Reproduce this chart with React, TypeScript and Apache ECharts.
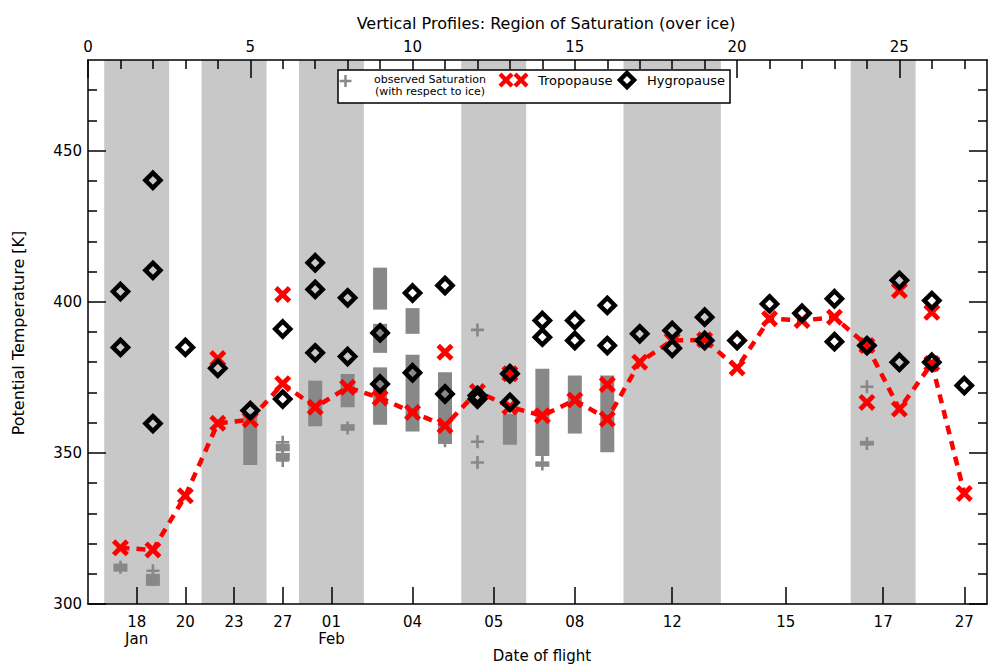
import React, { useEffect, useRef } from "react";
import * as echarts from "echarts";

const FONT = "DejaVu Sans";
const X_MAX = 27.7;
const Y_MIN = 300;
const Y_MAX = 480;

const bandRanges = [
  [0.5, 2.5], [3.5, 5.5], [6.5, 8.5], [11.5, 13.5], [16.5, 19.5], [23.5, 25.5],
];
const dateTickPos = [1.5, 3, 4.5, 6, 7.5, 10, 12.5, 15, 18, 21.5, 24.5, 27];
const dateTickLabels = ["18\nJan", "20", "23", "27", "01\nFeb", "04", "05", "08", "12", "15", "17", "27"];
const topTickMajor = [0, 5, 10, 15, 20, 25];
const topTickMinor = [1, 2, 3, 4, 6, 7, 8, 9, 11, 12, 13, 14, 16, 17, 18, 19, 21, 22, 23, 24, 26, 27];
const yMajor = [300, 350, 400, 450];
const yMinor = [310, 320, 330, 340, 360, 370, 380, 390, 410, 420, 430, 440, 460, 470];

// primary tropopause (connected by dashed line)
const tropopauseLine = [
  [1, 318.6], [2, 317.9], [3, 335.8], [4, 359.8], [5, 361.0], [6, 372.9], [7, 365.1],
  [8, 371.7], [9, 368.2], [10, 363.4], [11, 359.0], [12, 370.3], [13, 365.2], [14, 362.3],
  [15, 367.5], [16, 361.2], [17, 380.0], [18, 387.2], [19, 387.4], [20, 378.1], [21, 394.4],
  [22, 393.8], [23, 394.9], [24, 385.5], [25, 364.5], [26, 379.6], [27, 336.6],
];
// secondary tropopauses
const tropopauseExtra = [
  [4, 381.2], [6, 402.4], [11, 383.3], [13, 376.2], [16, 372.6], [24, 366.7], [25, 403.7], [26, 396.5],
];
const hygropause = [
  [1, 403.4], [1, 384.9], [2, 440.2], [2, 410.4], [2, 359.7], [3, 384.9], [4, 378.0], [5, 364.0],
  [6, 391.0], [6, 367.8], [7, 412.9], [7, 404.1], [7, 383.1], [8, 401.3], [8, 381.9],
  [9, 389.7], [9, 372.8], [10, 402.9], [10, 376.5], [11, 405.4], [11, 369.5],
  [12, 369.0], [12, 367.8], [13, 376.2], [13, 366.7], [14, 393.8], [14, 388.3],
  [15, 393.8], [15, 387.2], [16, 398.8], [16, 385.5], [17, 389.4], [18, 390.5], [18, 384.6],
  [19, 394.9], [19, 387.2], [20, 387.2], [21, 399.3], [22, 396.2], [23, 401.0], [23, 386.8],
  [24, 385.5], [25, 407.1], [25, 380.0], [26, 400.4], [26, 380.0], [27, 372.3],
];
// observed saturation ranges [flight, low, high]
const saturationBars = [
  [1, 310.7, 313.4], [2, 306.0, 310.0], [5, 346.0, 363.0], [6, 350.5, 353.0], [6, 347.5, 350.0],
  [7, 358.8, 373.9], [8, 365.1, 376.1], [8, 357.3, 359.5],
  [9, 397.4, 411.3], [9, 383.1, 392.7], [9, 359.3, 378.3],
  [10, 389.4, 397.9], [10, 357.1, 382.5], [11, 352.9, 376.7], [11, 353.3, 354.8],
  [13, 352.7, 362.9], [14, 349.0, 377.8], [14, 345.4, 347.2], [15, 356.4, 375.6],
  [16, 350.2, 375.6], [24, 352.4, 354.0],
];
const saturationPoints = [
  [1, 312.2], [2, 311.0], [2, 308.2], [6, 353.5], [6, 351.5], [6, 349.5], [6, 347.5],
  [8, 358.2], [11, 354.0], [12, 390.7], [12, 353.7], [12, 346.8], [14, 349.7], [14, 346.3],
  [24, 371.9], [24, 353.1],
];

const X_PATH = "path://M4,0 L10,6 L16,0 L20,4 L14,10 L20,16 L16,20 L10,14 L4,20 L0,16 L6,10 L0,4 Z";
const PLUS_PATH = "path://M4,0 L6,0 L6,4 L10,4 L10,6 L6,6 L6,10 L4,10 L4,6 L0,6 L0,4 L4,4 Z";

function xPoly(cx: number, cy: number, s: number) {
  const pts = [[4, 0], [10, 6], [16, 0], [20, 4], [14, 10], [20, 16], [16, 20], [10, 14], [4, 20], [0, 16], [6, 10], [0, 4]];
  return pts.map(([a, b]) => [cx + (a - 10) * s / 20, cy + (b - 10) * s / 20]);
}

export default function App() {
  const ref = useRef<HTMLDivElement>(null);
  useEffect(() => {
    if (!ref.current) return;
    const chart = echarts.init(ref.current, undefined, { renderer: "svg" });
    const axisLine = { show: true, onZero: false, lineStyle: { color: "#000", width: 1.5 } };
    const tickStyle = { color: "#000", width: 1.5 };
    const labelStyle = { color: "#000", fontFamily: FONT, fontSize: 15 };

    const option: any = {
      animation: false,
      backgroundColor: "#fff",
      title: {
        text: "Vertical Profiles: Region of Saturation (over ice)",
        left: 541,
        top: 10,
        textAlign: "center",
        textStyle: { color: "#000", fontFamily: FONT, fontSize: 16, fontWeight: "normal" },
      },
      grid: { left: 88, right: 1, top: 60, bottom: 62, containLabel: false },
      xAxis: [
        {
          type: "value", position: "bottom", min: 0, max: X_MAX,
          axisLine,
          axisTick: { show: true, inside: true, length: 17, customValues: dateTickPos, lineStyle: tickStyle },
          axisLabel: {
            ...labelStyle, margin: 9, lineHeight: 17, customValues: dateTickPos,
            formatter: (v: number) => {
              const i = dateTickPos.findIndex((p) => Math.abs(p - v) < 1e-6);
              return i >= 0 ? dateTickLabels[i] : "";
            },
          },
          splitLine: { show: false },
        },
        {
          type: "value", position: "top", min: 0, max: X_MAX,
          axisLine,
          axisTick: { show: true, inside: true, length: 18, customValues: topTickMajor, lineStyle: tickStyle },
          axisLabel: { ...labelStyle, margin: 6, customValues: topTickMajor },
          splitLine: { show: false },
        },
        {
          type: "value", position: "top", min: 0, max: X_MAX,
          axisLine: { show: false, onZero: false },
          axisTick: { show: true, inside: true, length: 9, customValues: topTickMinor, lineStyle: tickStyle },
          axisLabel: { show: false },
          splitLine: { show: false },
        },
      ],
      yAxis: [
        {
          type: "value", position: "left", min: Y_MIN, max: Y_MAX,
          axisLine,
          axisTick: { show: true, inside: true, length: 18, customValues: yMajor, lineStyle: tickStyle },
          axisLabel: { ...labelStyle, margin: 6, customValues: yMajor },
          splitLine: { show: false },
        },
        {
          type: "value", position: "left", min: Y_MIN, max: Y_MAX,
          axisLine: { show: false, onZero: false },
          axisTick: { show: true, inside: true, length: 9, customValues: yMinor, lineStyle: tickStyle },
          axisLabel: { show: false },
          splitLine: { show: false },
        },
        {
          type: "value", position: "right", min: Y_MIN, max: Y_MAX,
          axisLine,
          axisTick: { show: true, inside: true, length: 18, customValues: yMajor, lineStyle: tickStyle },
          axisLabel: { show: false },
          splitLine: { show: false },
        },
        {
          type: "value", position: "right", min: Y_MIN, max: Y_MAX,
          axisLine: { show: false, onZero: false },
          axisTick: { show: true, inside: true, length: 9, customValues: yMinor, lineStyle: tickStyle },
          axisLabel: { show: false },
          splitLine: { show: false },
        },
      ],
      series: [
        {
          type: "custom",
          name: "bands",
          z: 0,
          silent: true,
          data: bandRanges,
          renderItem: (params: any, api: any) => {
            const p1 = api.coord([api.value(0), Y_MAX]);
            const p2 = api.coord([api.value(1), Y_MIN]);
            return {
              type: "rect",
              shape: { x: p1[0], y: p1[1], width: p2[0] - p1[0], height: p2[1] - p1[1] },
              style: { fill: "#c8c8c8" },
            };
          },
        },
        {
          type: "custom",
          name: "observed Saturation",
          z: 1,
          data: saturationBars,
          encode: { x: 0, y: [1, 2] },
          renderItem: (params: any, api: any) => {
            const x = api.value(0);
            const top = api.coord([x, api.value(2)]);
            const bot = api.coord([x, api.value(1)]);
            const w = 14;
            return {
              type: "rect",
              shape: { x: top[0] - w / 2, y: top[1], width: w, height: Math.max(1, bot[1] - top[1]) },
              style: { fill: "#888888" },
            };
          },
        },
        {
          type: "scatter",
          name: "observed Saturation points",
          z: 2,
          symbol: PLUS_PATH,
          symbolSize: 13,
          itemStyle: { color: "#888888", opacity: 1 },
          data: saturationPoints,
        },
        {
          type: "line",
          name: "Tropopause line",
          z: 3,
          symbol: "none",
          lineStyle: { color: "#ff0000", width: 4.5, type: [9, 7] },
          data: tropopauseLine,
        },
        {
          type: "scatter",
          name: "Tropopause",
          z: 4,
          symbol: X_PATH,
          symbolSize: 17,
          itemStyle: { color: "#ff0000", opacity: 1 },
          data: tropopauseLine.concat(tropopauseExtra),
        },
        {
          type: "scatter",
          name: "Hygropause",
          z: 5,
          symbol: "diamond",
          symbolSize: 15,
          itemStyle: { color: "rgba(255,255,255,0)", borderColor: "#000", borderWidth: 4.5, opacity: 1 },
          data: hygropause,
        },
      ],
      graphic: [
        {
          type: "text", x: 18, y: 333, rotation: Math.PI / 2,
          style: { text: "Potential Temperature [K]", fill: "#000", font: `16px "${FONT}"`, align: "center", verticalAlign: "middle" },
        },
        {
          type: "text", x: 542, y: 656,
          style: { text: "Date of flight", fill: "#000", font: `15px "${FONT}"`, align: "center", verticalAlign: "middle" },
        },
        {
          type: "rect", z: 100,
          shape: { x: 338, y: 70, width: 392, height: 33 },
          style: { fill: "#fff", stroke: "#000", lineWidth: 1.5 },
        },
        { type: "line", z: 101, shape: { x1: 339.5, y1: 81, x2: 351.5, y2: 81 }, style: { stroke: "#888", lineWidth: 2.5 } },
        { type: "line", z: 101, shape: { x1: 345.5, y1: 75, x2: 345.5, y2: 87 }, style: { stroke: "#888", lineWidth: 2.5 } },
        {
          type: "text", z: 101, x: 430, y: 85.5,
          style: {
            text: "observed Saturation\n(with respect to ice)", fill: "#000", fontFamily: FONT, fontSize: 11,
            lineHeight: 11.5, align: "center", verticalAlign: "middle",
          },
        },
        { type: "polygon", z: 101, shape: { points: xPoly(506, 80, 15) }, style: { fill: "#ff0000" } },
        { type: "polygon", z: 101, shape: { points: xPoly(521, 80, 15) }, style: { fill: "#ff0000" } },
        {
          type: "text", z: 101, x: 538, y: 80,
          style: { text: "Tropopause", fill: "#000", font: `13px "${FONT}"`, align: "left", verticalAlign: "middle" },
        },
        {
          type: "polygon", z: 101,
          shape: { points: [[627, 73], [634, 80], [627, 87], [620, 80]] },
          style: { fill: "none", stroke: "#000", lineWidth: 4.5 },
        },
        {
          type: "text", z: 101, x: 647, y: 80,
          style: { text: "Hygropause", fill: "#000", font: `13px "${FONT}"`, align: "left", verticalAlign: "middle" },
        },
      ],
    };
    chart.setOption(option);
    return () => chart.dispose();
  }, []);
  return (
    <div
      ref={ref}
      style={{ position: "fixed", left: 0, top: 0, width: 988, height: 666, background: "#fff" }}
    />
  );
}
